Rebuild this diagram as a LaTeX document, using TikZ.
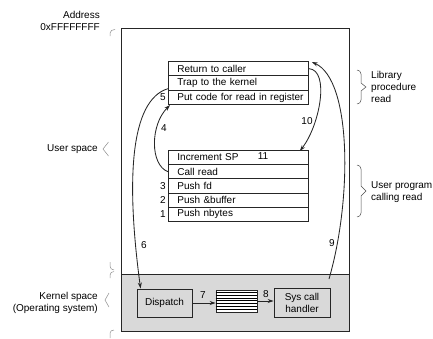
\documentclass[tikz,border=0pt]{standalone}
\usepackage{fontspec}
\setmainfont{Liberation Sans}
\usetikzlibrary{arrows.meta,calc}
\begin{document}
\begin{tikzpicture}[x=1pt,y=-1pt,
  every node/.style={font=\fontsize{10}{12}\selectfont},
  line/.style={line width=0.85pt, draw=black!85},
  rowA/.style={line, draw, minimum width=140pt, minimum height=14.4pt, text width=122pt, inner xsep=9pt, inner ysep=0pt, align=left, anchor=north west},
  rowB/.style={rowA, minimum height=14.2pt},
  kbox/.style={line, draw, fill=black!15, align=center, inner sep=0pt},
  num/.style={inner sep=0pt},
  lbl/.style={inner sep=0pt, align=right, anchor=east},
  rlbl/.style={inner sep=0pt, align=left, anchor=west},
  conn/.style={line, -{Stealth[length=6pt,width=4pt]}},
  brace/.style={line width=0.5pt, draw=black!70},
  faint/.style={line width=0.5pt, draw=black!45}
]
\useasboundingbox (0,0) rectangle (433,338);
% frame and kernel area
\fill[black!15] (121,274) rectangle (349,331);
\draw[line] (121,28) rectangle (349,331);
\draw[line] (121,274) -- (349,274);
\coordinate (k9) at (329,279);

% library procedure rows
\node[rowA] (ret)  at (168,61)   {\mbox{Return to caller}};
\node[rowA] (trap) at (168,75.4) {\mbox{Trap to the kernel}};
\node[rowA] (put)  at (168,89.8) {\mbox{Put code for read in register}};

% user program rows
\node[rowB] (inc)  at (168,150)   {\mbox{Increment SP}};
\node[rowB] (call) at (168,164.2) {\mbox{Call read}};
\node[rowB] (pfd)  at (168,178.4) {\mbox{Push fd}};
\node[rowB] (pbuf) at (168,192.6) {\mbox{Push \&buffer}};
\node[rowB] (pnb)  at (168,206.8) {\mbox{Push nbytes}};

% kernel boxes
\node[kbox, minimum width=55pt, minimum height=28pt] (disp) at (164.5,303) {Dispatch};
\node[kbox, minimum width=41pt, minimum height=22pt, fill=white] (tbl) at (236.5,301) {};
\foreach \i in {1,...,7} {
  \draw[line width=0.6pt] ($(tbl.north west)+(0,2.75*\i)$) -- ($(tbl.north east)+(0,2.75*\i)$);
}
\node[kbox, minimum width=56pt, minimum height=29pt] (sch) at (302,302.5) {Sys call\\handler};

% connectors
\draw[conn] (disp.east) -- (disp.east -| tbl.west);
\draw[conn] (tbl.east) -- (tbl.east -| sch.west);
\draw[conn] ($(trap.south west)+(0,-2)$) .. controls (130,100) and (126,180) .. ($(disp.north west)+(4,0)$);
\draw[conn] (call.west) .. controls (150,165) and (150,125) .. ($(put.south west)+(2,0)$);
\draw[conn] (ret.east) .. controls (330,70) and (320,125) .. ($(inc.north east)+(-9,1)$);
\draw[conn] (k9) .. controls (352,200) and (352,80) .. ($(ret.north east)+(3,1)$);

% step numbers
\node[num] (n5) at (163,97) {5};
\node[num] (n4) at (164,128) {4};
\node[num] (n10) at (307,121) {10};
\node[num] (n11) at (263,156) {11};
\node[num] (n3) at (163,186) {3};
\node[num] (n2) at (163,200) {2};
\node[num] (n1) at (163,214) {1};
\node[num] (n6) at (144,245) {6};
\node[num] (n9) at (332,243) {9};
\node[num] (n7) at (203,295) {7};
\node[num] (n8) at (266,294) {8};

% left labels
\node[lbl] (addr) at (100,15) {Address};
\node[lbl] (addrv) at (100,27) {0xFFFFFFFF};
\node[lbl] (us) at (98,149) {User space};
\node[lbl] (ks) at (98,302.5) {Kernel space\\(Operating system)};

% left brace fragments
\draw[faint] (110,36) -- (110,33) to[out=90,in=180] (115,29.5);
\draw[faint] (108.5,142) -- (103,149) -- (108.5,156);
\draw[faint] (110,262) -- (110,266) to[out=-90,in=180] (114,270);
\draw[faint] (110,278) -- (110,275) to[out=90,in=180] (114,271.5);
\draw[faint] (109,293) -- (105,300) -- (109,307);
\draw[faint] (114,330) to[out=180,in=90] (110,333) -- (110,338);

% right braces and labels
\draw[brace] (357,70) to[out=0,in=90] (361,74) -- (361,83) -- (366,87) -- (361,91) -- (361,100) to[out=-90,in=0] (357,104);
\node[rlbl] (lib) at (371,87) {Library\\procedure\\read};
\draw[brace] (357,165) to[out=0,in=90] (361,169) -- (361,186) -- (366,191) -- (361,196) -- (361,213) to[out=-90,in=0] (357,217);
\node[rlbl] (upr) at (371,192) {User program\\calling read};
\end{tikzpicture}
\end{document}
